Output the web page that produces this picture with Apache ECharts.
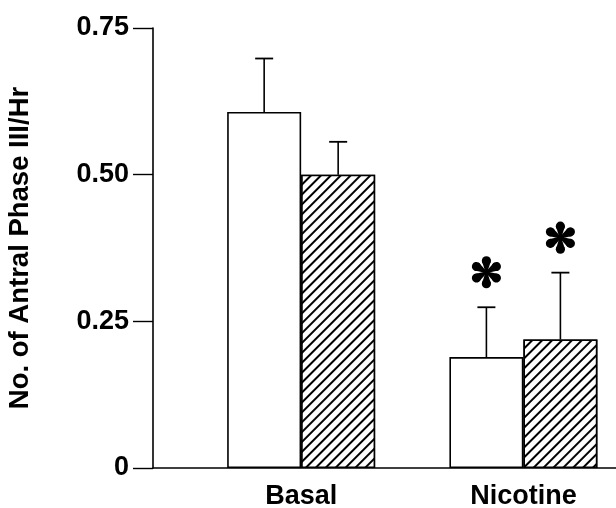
<!DOCTYPE html>
<html>
<head>
<meta charset="utf-8">
<script src="https://cdn.jsdelivr.net/npm/echarts@6/dist/echarts.min.js"></script>
<style>html,body{margin:0;padding:0;background:#fff;}#chart{width:616px;height:508px;}</style>
</head>
<body>
<div id="chart"></div>
<script>
// ---- data ----
var categories = ['Basal', 'Nicotine'];
var categoryPos = [3.2, 8.0];
var controlValues = [0.607, 0.189];
var controlErr = [0.091, 0.085];
var controlSig = [false, true];
var nicotineValues = [0.500, 0.219];
var nicotineErr = [0.056, 0.114];
var nicotineSig = [false, true];
var yTicks = [0, 0.25, 0.5, 0.75];

var FONT = 'Liberation Sans';
var BAR_W = 74;

function barData(vals) {
  return vals.map(function (v, i) { return [categoryPos[i], v]; });
}
function errData(vals, errs, sig) {
  return vals.map(function (v, i) { return [categoryPos[i], v, errs[i], sig[i] ? 1 : 0]; });
}
function asterisk(cx, cy) {
  var petals = [];
  for (var k = 0; k < 6; k++) {
    petals.push({
      type: 'group', x: cx, y: cy, rotation: k * Math.PI / 3,
      children: [
        { type: 'circle', shape: { cx: 0, cy: -11.5, r: 4.6 }, style: { fill: '#000' } },
        { type: 'polygon', shape: { points: [[-0.9, 0], [0.9, 0], [4.4, -11], [-4.4, -11]] }, style: { fill: '#000' } }
      ]
    });
  }
  return { type: 'group', children: petals };
}
function errRender(offset) {
  return function (params, api) {
    var x = api.value(0), v = api.value(1), e = api.value(2), s = api.value(3);
    var base = api.coord([x, v]);
    var top = api.coord([x, v + e]);
    var cx = base[0] + offset;
    var children = [
      { type: 'line', shape: { x1: cx, y1: base[1], x2: cx, y2: top[1] }, style: { stroke: '#000', lineWidth: 1.6 } },
      { type: 'line', shape: { x1: cx - 9, y1: top[1], x2: cx + 9, y2: top[1] }, style: { stroke: '#000', lineWidth: 1.8 } }
    ];
    if (s) {
      children.push(asterisk(cx, top[1] - 35));
    }
    return { type: 'group', children: children };
  };
}

var chart = echarts.init(document.getElementById('chart'), null, { renderer: 'canvas' });
chart.setOption({
  animation: false,
  backgroundColor: '#fff',
  grid: { left: 153, right: 0, top: 28, bottom: 40, containLabel: false, outerBoundsMode: 'none' },
  xAxis: {
    type: 'value', min: 0, max: 10,
    axisLine: { show: true, lineStyle: { color: '#000', width: 1.6 } },
    axisTick: { show: false },
    splitLine: { show: false },
    axisLabel: {
      customValues: categoryPos,
      formatter: function (v) { var i = categoryPos.indexOf(v); return i >= 0 ? categories[i] : ''; },
      color: '#000', fontFamily: FONT, fontWeight: 'bold', fontSize: 27, margin: 15
    }
  },
  yAxis: {
    type: 'value', min: 0, max: 0.75, interval: 0.25,
    name: 'No. of Antral Phase III/Hr', nameLocation: 'middle', nameGap: 119,
    nameTextStyle: { color: '#000', fontFamily: FONT, fontWeight: 'bold', fontSize: 27.5 },
    axisLine: { show: true, lineStyle: { color: '#000', width: 1.6 } },
    axisTick: { show: true, inside: false, length: 20, lineStyle: { color: '#000', width: 1.4 } },
    splitLine: { show: false },
    axisLabel: {
      color: '#000', fontFamily: FONT, fontWeight: 'bold', fontSize: 27, margin: 24,
      formatter: function (v) { return v === 0 ? '0' : v.toFixed(2); }
    }
  },
  series: [
    {
      type: 'bar', name: 'Control', data: barData(controlValues), barWidth: BAR_W, barGap: '0%',
      itemStyle: { color: '#fff', borderColor: '#000', borderWidth: 1.6 }, z: 2
    },
    {
      type: 'bar', name: 'Nicotine', data: barData(nicotineValues), barWidth: BAR_W, barGap: '0%',
      itemStyle: {
        color: '#fff', borderColor: '#000', borderWidth: 1.6,
        decal: { symbol: 'rect', symbolSize: 1, dashArrayX: [1, 0], dashArrayY: [1.2, 4.8], rotation: -Math.PI / 4, color: '#000', backgroundColor: '#fff' }
      }, z: 2
    },
    { type: 'custom', data: errData(controlValues, controlErr, controlSig), renderItem: errRender(-BAR_W / 2), z: 3 },
    { type: 'custom', data: errData(nicotineValues, nicotineErr, nicotineSig), renderItem: errRender(BAR_W / 2), z: 3 }
  ]
});
</script>
</body>
</html>
